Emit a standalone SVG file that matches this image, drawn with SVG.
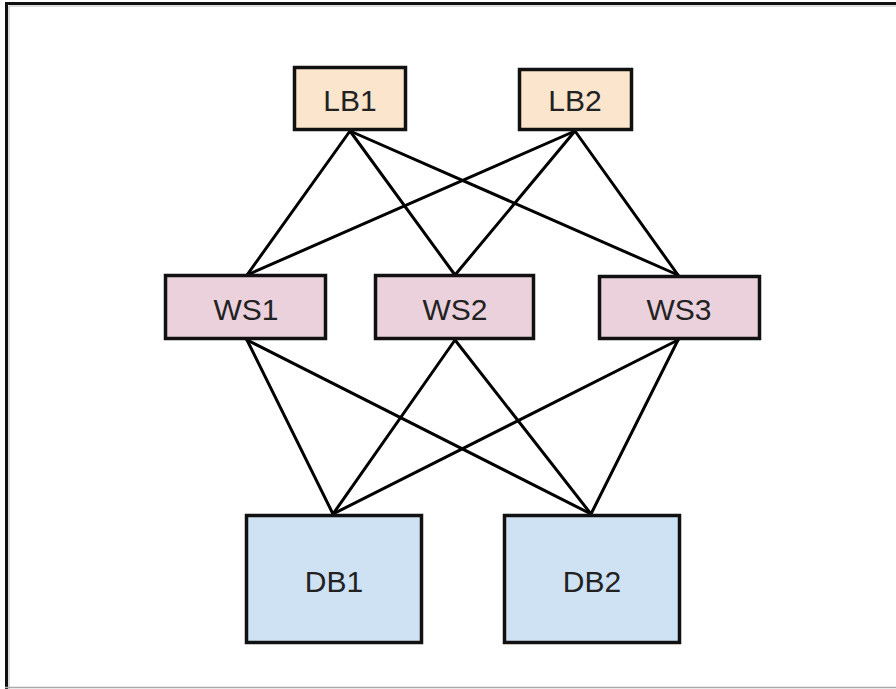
<svg xmlns="http://www.w3.org/2000/svg" width="896" height="689" viewBox="0 0 896 689">
  <style>
    .box { stroke: #111; stroke-width: 3.5; }
    .lb { fill: #fce5cd; }
    .ws { fill: #ead1dc; }
    .db { fill: #cfe2f3; }
    .label { font-family: "Liberation Sans", Arial, sans-serif; font-size: 30px; fill: #222; text-anchor: middle; }
    .link { stroke: #000; stroke-width: 3; fill: none; stroke-linecap: round; }
  </style>
  <rect x="0" y="0" width="896" height="689" fill="#fff"/>
  <!-- frame -->
  <g id="frame">
    <path d="M6.5 689 V3.5 H896" fill="none" stroke="#111" stroke-width="3"/>
    <path d="M9 689 V6 H896" fill="none" stroke="#bbb" stroke-width="1"/>
    <line x1="5" y1="687.5" x2="896" y2="687.5" stroke="#aaa" stroke-width="1.5"/>
  </g>
  <!-- connectors -->
  <g id="connectors">
    <line class="link" x1="350" y1="131" x2="247" y2="275"/>
    <line class="link" x1="350" y1="131" x2="455" y2="275"/>
    <line class="link" x1="350" y1="131" x2="678" y2="275"/>
    <line class="link" x1="575" y1="131" x2="247" y2="275"/>
    <line class="link" x1="575" y1="131" x2="455" y2="275"/>
    <line class="link" x1="575" y1="131" x2="678" y2="275"/>
    <line class="link" x1="247" y1="340" x2="333" y2="514"/>
    <line class="link" x1="247" y1="340" x2="591" y2="514"/>
    <line class="link" x1="455" y1="340" x2="333" y2="514"/>
    <line class="link" x1="455" y1="340" x2="591" y2="514"/>
    <line class="link" x1="678" y1="340" x2="333" y2="514"/>
    <line class="link" x1="678" y1="340" x2="591" y2="514"/>
  </g>
  <g id="LB1">
    <rect class="box lb" x="294.5" y="67.5" width="111" height="62"/>
    <text class="label" x="350" y="111">LB1</text>
  </g>
  <g id="LB2">
    <rect class="box lb" x="519.5" y="69.5" width="112" height="60"/>
    <text class="label" x="575" y="111">LB2</text>
  </g>
  <g id="WS1">
    <rect class="box ws" x="165.5" y="275.5" width="160" height="63"/>
    <text class="label" x="246" y="320">WS1</text>
  </g>
  <g id="WS2">
    <rect class="box ws" x="375.5" y="275.5" width="158" height="63"/>
    <text class="label" x="455" y="320">WS2</text>
  </g>
  <g id="WS3">
    <rect class="box ws" x="599.5" y="276.5" width="160" height="62"/>
    <text class="label" x="679" y="320">WS3</text>
  </g>
  <g id="DB1">
    <rect class="box db" x="246.5" y="515.5" width="175" height="127"/>
    <text class="label" x="334" y="592">DB1</text>
  </g>
  <g id="DB2">
    <rect class="box db" x="504.5" y="515.5" width="175" height="127"/>
    <text class="label" x="592" y="592">DB2</text>
  </g>
</svg>
